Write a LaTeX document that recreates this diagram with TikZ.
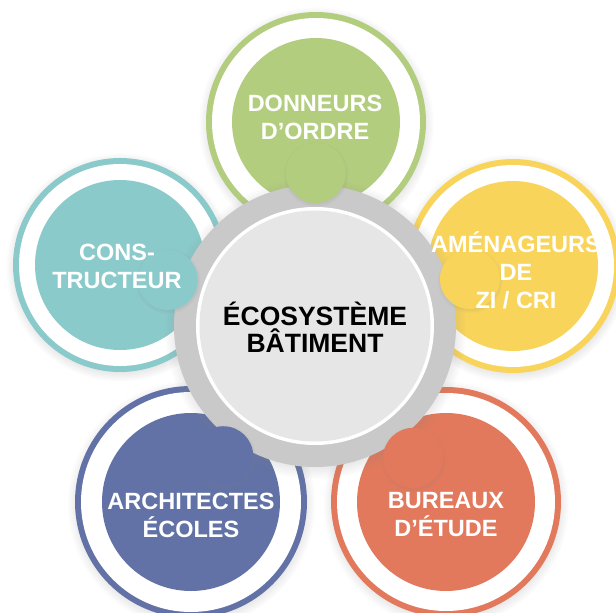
\documentclass[tikz,border=0pt]{standalone}
\usepackage{fontspec}
\setmainfont{Liberation Sans}
\usetikzlibrary{calc,shadows}
\definecolor{EcoGreen}{RGB}{179,205,126}
\definecolor{EcoTeal}{RGB}{139,202,203}
\definecolor{EcoYellow}{RGB}{249,212,91}
\definecolor{EcoBlue}{RGB}{98,114,166}
\definecolor{EcoOrange}{RGB}{226,121,92}
\definecolor{HubGray}{RGB}{201,201,201}
\definecolor{HubLight}{RGB}{230,230,230}
\tikzset{
  disc/.style={
    circle,
    draw=none,
    inner sep=0pt,
  },
  ring/.style={
    disc,
    minimum size=#1,
    circular drop shadow={shadow scale=1.07,shadow xshift=0pt,shadow yshift=-2pt,opacity=.3},
  },
  gap/.style={
    disc,
    minimum size=#1,
    fill=white,
  },
  core/.style={
    disc,
    minimum size=#1,
  },
  bump/.style={
    disc,
    minimum size=60pt,
    circular drop shadow={shadow scale=1.1,shadow xshift=0pt,shadow yshift=-1pt,opacity=.18},
  },
  partner text/.style={
    align=center,
    text=white,
    font=\fontsize{23.5pt}{28pt}\selectfont\bfseries,
  },
  hub text/.style={
    align=center,
    text=black,
    font=\fontsize{26.5pt}{27pt}\selectfont\bfseries,
  },
}

\begin{document}
\begin{tikzpicture}[x=1pt,y=-1pt]
\useasboundingbox (0,0) rectangle (616,613);

% the five partner circles
\node[ring=220pt,fill=EcoGreen] (don) at (316,122) {};
\node[gap=208pt] (don-w) at (don) {};
\node[core=168pt,fill=EcoGreen] (don-c) at (don) {};

\node[ring=214pt,fill=EcoTeal] (con) at (120,265) {};
\node[gap=202pt] (con-w) at (con) {};
\node[core=170pt,fill=EcoTeal] (con-c) at (con) {};

\node[ring=214pt,fill=EcoYellow] (ame) at (513,266) {};
\node[gap=202pt] (ame-w) at (ame) {};
\node[core=170pt,fill=EcoYellow] (ame-c) at (ame) {};

\node[ring=232pt,fill=EcoBlue] (arc) at (191,502) {};
\node[gap=220pt] (arc-w) at (arc) {};
\node[core=178pt,fill=EcoBlue] (arc-c) at (arc) {};

\node[ring=230pt,fill=EcoOrange] (bur) at (446,502) {};
\node[gap=218pt] (bur-w) at (bur) {};
\node[core=178pt,fill=EcoOrange] (bur-c) at (bur) {};

% hub in the middle
\node[ring=282pt,fill=HubGray] (hub) at (315,326) {};
\node[gap=238pt] (hub-w) at (hub) {};
\node[core=231pt,fill=HubLight] (hub-c) at (hub) {};

% small lobes reaching onto the hub ring
\node[bump,fill=EcoGreen] (don-b) at ($(don)!51pt!(hub)$) {};
\node[bump,fill=EcoTeal] (con-b) at ($(con)!50pt!(hub)$) {};
\node[bump,fill=EcoYellow] (ame-b) at ($(ame)!45pt!(hub)$) {};
\node[bump,fill=EcoBlue] (arc-b) at ($(arc)!56pt!(hub)$) {};
\node[bump,fill=EcoOrange] (bur-b) at ($(bur)!55pt!(hub)$) {};

% labels
\node[hub text] (hub-t) at (315,327) {ÉCOSYSTÈME\\BÂTIMENT};
\node[partner text] (don-t) at (315,117.5) {DONNEURS\\D’ORDRE};
\node[partner text] (con-t) at (117,266) {CONS-\\TRUCTEUR};
\node[partner text] (ame-t) at (516,270) {AMÉNAGEURS\\DE\\ZI / CRI};
\node[partner text] (arc-t) at (191,515) {ARCHITECTES\\ÉCOLES};
\node[partner text] (bur-t) at (446,515) {BUREAUX\\D’ÉTUDE};

\end{tikzpicture}
\end{document}
